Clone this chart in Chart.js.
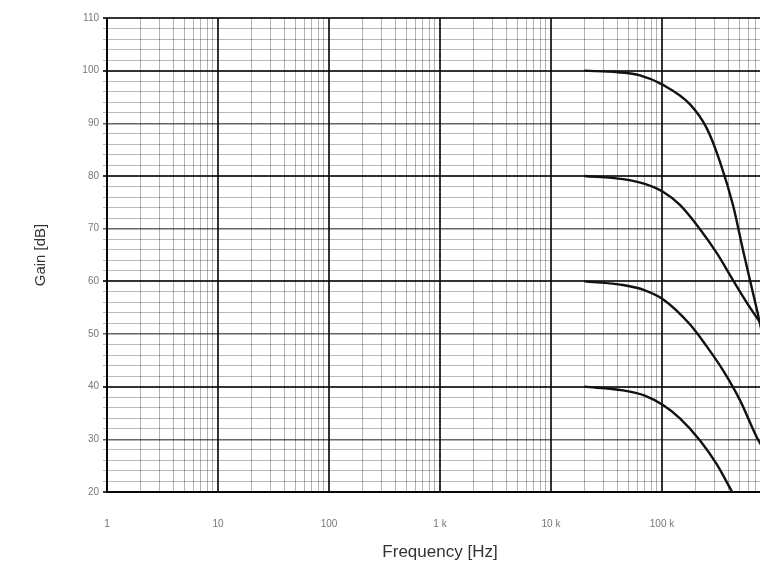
<!DOCTYPE html>
<html>
<head>
<meta charset="utf-8">
<script src="https://cdn.jsdelivr.net/npm/chart.js@4.4.1/dist/chart.umd.min.js"></script>
<style>
  html, body { margin: 0; padding: 0; background: #fff; overflow: hidden; }
  #wrap { width: 800px; height: 567px; }
</style>
</head>
<body>
<div id="wrap"><canvas id="gainChart" width="800" height="567"></canvas></div>
<script>
// gain curves (frequency in Hz, gain in dB)
const freq100 = [20000, 40000, 63400, 102000, 179000, 254000, 333000, 437000, 537000, 718000, 800000];
const gain100 = [100, 99.7, 99.1, 97.3, 93.6, 89, 82.7, 74.4, 65.9, 54.5, 50];

const freq80 = [20000, 44600, 70000, 102000, 145000, 220000, 313000, 437000, 621000, 800000];
const gain80 = [80, 79.4, 78.5, 77.0, 74.5, 69.9, 65.3, 60.2, 55, 51.6];

const freq60 = [20000, 44600, 70000, 102000, 179000, 250000, 355000, 505000, 718000, 800000];
const gain60 = [60, 59.3, 58.3, 56.6, 51.8, 47.8, 43.1, 37.4, 30.3, 28.6];

const freq40 = [20000, 44600, 70000, 102000, 145000, 220000, 313000, 428000];
const gain40 = [40, 39.3, 38.3, 36.5, 34.0, 29.8, 25.2, 20];

const xDecades = [1, 10, 100, 1000, 10000, 100000, 1000000];
const xDecadeLabels = ['1', '10', '100', '1 k', '10 k', '100 k', '1 M'];
const yMin = 20, yMax = 110, yMinorStep = 2, yLabelStep = 10;

function toPoints(xs, ys) {
  return xs.map((x, i) => ({ x: x, y: ys[i] }));
}

// grid ticks: 1..9 in every decade, every 2 dB
const xGridTicks = [];
xDecades.forEach((d, i) => {
  if (i === xDecades.length - 1) { xGridTicks.push(d); return; }
  for (let m = 1; m <= 9; m++) xGridTicks.push(d * m);
});
const yGridTicks = [];
for (let v = yMin; v <= yMax; v += yMinorStep) yGridTicks.push(v);

function isDecade(v) {
  return xDecades.some(d => Math.abs(v - d) < d * 1e-6);
}

const lineStyle = { borderColor: '#111', borderWidth: 2.4, pointRadius: 0, fill: false, cubicInterpolationMode: 'monotone' };

const ctx = document.getElementById('gainChart').getContext('2d');
new Chart(ctx, {
  type: 'line',
  data: {
    datasets: [
      Object.assign({ label: '100 dB', data: toPoints(freq100, gain100) }, lineStyle),
      Object.assign({ label: '80 dB', data: toPoints(freq80, gain80) }, lineStyle),
      Object.assign({ label: '60 dB', data: toPoints(freq60, gain60) }, lineStyle),
      Object.assign({ label: '40 dB', data: toPoints(freq40, gain40) }, lineStyle)
    ]
  },
  options: {
    responsive: false,
    animation: false,
    layout: { padding: { top: 18, right: 27, left: 0, bottom: 0 } },
    plugins: { legend: { display: false }, tooltip: { enabled: false } },
    scales: {
      x: {
        type: 'logarithmic',
        min: 1,
        max: 1000000,
        afterBuildTicks: (scale) => { scale.ticks = xGridTicks.map(v => ({ value: v })); },
        afterFit: (scale) => {
          scale.height = 75;
          scale.paddingLeft = 0;
          scale.paddingRight = 0;
        },
        border: { display: true, color: 'rgba(0,0,0,0.85)', width: 2 },
        grid: {
          drawTicks: false,
          color: (c) => isDecade(c.tick.value) ? 'rgba(0,0,0,0.8)' : 'rgba(0,0,0,0.3)',
          lineWidth: (c) => isDecade(c.tick.value) ? 2 : 1
        },
        ticks: {
          autoSkip: false,
          maxRotation: 0,
          padding: 26,
          color: '#777',
          font: { family: 'Liberation Sans, Arial, sans-serif', size: 10 },
          callback: (value) => {
            const i = xDecades.findIndex(d => Math.abs(value - d) < d * 1e-6);
            return i >= 0 ? xDecadeLabels[i] : '';
          }
        },
        title: {
          display: true,
          text: 'Frequency [Hz]',
          color: '#333',
          font: { family: 'Liberation Sans, Arial, sans-serif', size: 17 },
          padding: { top: 0, bottom: 4 }
        }
      },
      y: {
        type: 'linear',
        min: yMin,
        max: yMax,
        afterBuildTicks: (scale) => { scale.ticks = yGridTicks.map(v => ({ value: v })); },
        afterFit: (scale) => { scale.width = 107; },
        border: { display: true, color: 'rgba(0,0,0,0.85)', width: 2 },
        grid: {
          tickLength: 4,
          color: (c) => {
            const v = c.tick.value;
            if (v % 20 === 0 || v === yMax) return 'rgba(0,0,0,0.8)';
            if (v % 10 === 0) return 'rgba(0,0,0,0.6)';
            return 'rgba(0,0,0,0.28)';
          },
          lineWidth: (c) => {
            const v = c.tick.value;
            if (v % 20 === 0 || v === yMax) return 2;
            if (v % 10 === 0) return 1.5;
            return 1;
          }
        },
        ticks: {
          autoSkip: false,
          padding: 4,
          color: '#777',
          font: { family: 'Liberation Sans, Arial, sans-serif', size: 10 },
          callback: (value) => value % yLabelStep === 0 ? String(value) : ''
        },
        title: {
          display: true,
          text: 'Gain [dB]',
          color: '#333',
          font: { family: 'Liberation Sans, Arial, sans-serif', size: 15 },
          padding: { top: 32, bottom: 0 }
        }
      }
    }
  }
});
</script>
</body>
</html>
